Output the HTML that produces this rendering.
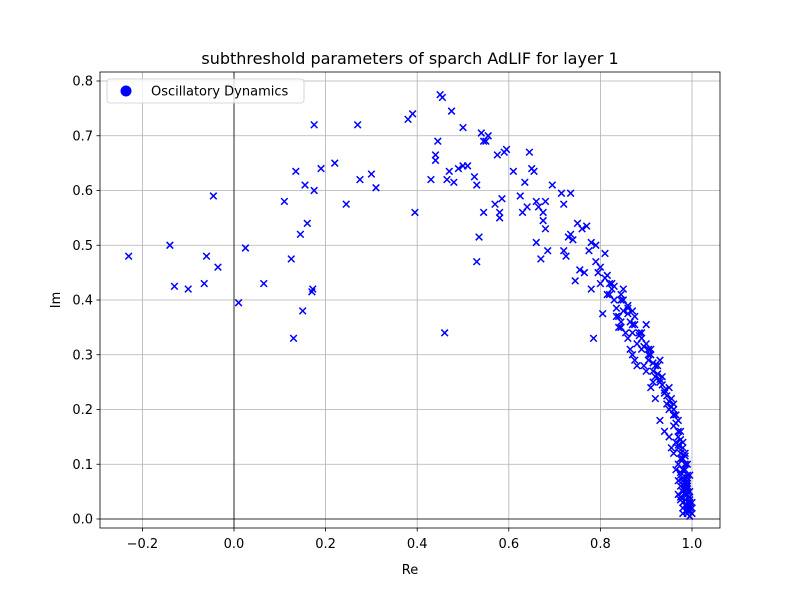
<!DOCTYPE html>
<html><head><meta charset="utf-8"><style>
body{margin:0;background:#fff;font-family:"Liberation Sans","DejaVu Sans",sans-serif}
svg text{font-family:"DejaVu Sans","Liberation Sans",sans-serif}
</style></head><body>
<svg id="chart" width="800" height="600" xmlns="http://www.w3.org/2000/svg"></svg>
<script>
const xTicks=[-0.2,0,0.2,0.4,0.6,0.8,1.0];
const xTickLabels=["−0.2","0.0","0.2","0.4","0.6","0.8","1.0"];
const yTicks=[0,0.1,0.2,0.3,0.4,0.5,0.6,0.7,0.8];
const yTickLabels=["0.0","0.1","0.2","0.3","0.4","0.5","0.6","0.7","0.8"];
const reVals=[-0.23,-0.14,-0.13,-0.10,-0.065,-0.06,-0.045,-0.035,0.01,0.025,0.065,0.11,0.125,0.13,0.135,0.145,0.15,0.155,0.16,0.17,0.172,0.175,0.175,0.19,0.22,0.245,0.27,0.275,0.3,0.31,0.38,0.39,0.395,0.43,0.44,0.44,0.445,0.45,0.455,0.46,0.465,0.47,0.475,0.48,0.49,0.5,0.5,0.51,0.525,0.53,0.53,0.535,0.54,0.545,0.545,0.55,0.555,0.57,0.575,0.58,0.58,0.585,0.59,0.595,0.61,0.625,0.63,0.635,0.64,0.645,0.65,0.655,0.66,0.66,0.665,0.67,0.675,0.675,0.68,0.68,0.685,0.695,0.715,0.72,0.72,0.725,0.73,0.735,0.735,0.74,0.745,0.75,0.755,0.76,0.765,0.77,0.775,0.78,0.78,0.785,0.79,0.79,0.795,0.8,0.805,0.81,
0.80,0.81,0.82,0.815,0.825,0.83,0.835,0.84,0.845,0.85,0.84,0.855,0.86,0.865,0.87,0.875,0.85,0.86,0.88,0.885,0.87,0.89,0.895,0.9,0.905,0.88,0.91,0.9,0.915,0.92,0.925,0.91,0.93,0.935,0.92,0.94,0.945,0.93,0.95,0.955,0.94,0.96,0.95,0.965,0.96,0.97,0.955,0.965,0.975,0.97,0.96,0.975,0.98,0.97,0.965,0.98,0.975,0.985,0.97,0.98,0.975,0.985,0.98,0.99,0.975,0.985,0.98,0.99,0.985,0.975,0.99,0.98,0.985,0.99,0.995,0.98,0.99,0.985,0.995,0.99,0.985,0.995,0.99,0.995,1.0,0.99,0.995,0.985,1.0,0.995,0.99,0.995,1.0,0.995,0.835,0.845,0.865,0.875,0.9,0.915,0.94,0.96,0.82,0.85,0.87,0.89,0.91,0.93,0.95,0.96,0.97,0.98,
0.825,0.845,0.86,0.87,0.885,0.895,0.905,0.915,0.925,0.935,0.945,0.955,0.96,0.965,0.97,0.975,0.98,0.985,0.99,0.975,0.98,0.985,0.99,0.97,0.975,0.98,0.985,0.99,0.995,0.98,0.985,0.99,0.995,0.97,0.96,0.95,0.94,0.93,0.92,0.905,0.89,0.875,0.86,0.845,0.83,0.815];
const imVals=[0.48,0.50,0.425,0.42,0.43,0.48,0.59,0.46,0.395,0.495,0.43,0.58,0.475,0.33,0.635,0.52,0.38,0.61,0.54,0.415,0.42,0.72,0.60,0.64,0.65,0.575,0.72,0.62,0.63,0.605,0.73,0.74,0.56,0.62,0.665,0.655,0.69,0.775,0.77,0.34,0.62,0.635,0.745,0.615,0.64,0.715,0.645,0.645,0.625,0.61,0.47,0.515,0.705,0.69,0.56,0.69,0.70,0.575,0.665,0.55,0.56,0.585,0.67,0.675,0.635,0.59,0.56,0.615,0.57,0.67,0.64,0.635,0.58,0.505,0.57,0.475,0.56,0.545,0.58,0.53,0.49,0.61,0.595,0.49,0.575,0.48,0.515,0.595,0.52,0.51,0.435,0.54,0.455,0.53,0.45,0.535,0.49,0.505,0.42,0.33,0.50,0.47,0.45,0.43,0.375,0.485,
0.46,0.44,0.43,0.41,0.42,0.40,0.385,0.37,0.36,0.38,0.35,0.34,0.39,0.36,0.34,0.37,0.42,0.33,0.32,0.34,0.30,0.31,0.28,0.32,0.29,0.28,0.30,0.355,0.27,0.26,0.28,0.24,0.25,0.26,0.22,0.23,0.21,0.18,0.20,0.22,0.16,0.21,0.15,0.19,0.17,0.18,0.13,0.14,0.16,0.15,0.12,0.12,0.14,0.10,0.09,0.11,0.08,0.12,0.07,0.09,0.06,0.10,0.05,0.08,0.04,0.06,0.03,0.065,0.045,0.11,0.05,0.02,0.035,0.025,0.03,0.07,0.015,0.055,0.02,0.01,0.09,0.04,0.06,0.015,0.02,0.075,0.025,0.1,0.01,0.035,0.045,0.005,0.03,0.05,0.37,0.35,0.31,0.29,0.27,0.25,0.23,0.19,0.41,0.40,0.38,0.34,0.31,0.29,0.24,0.19,0.13,0.11,
0.43,0.40,0.375,0.355,0.335,0.315,0.30,0.285,0.265,0.245,0.225,0.205,0.19,0.175,0.16,0.145,0.13,0.115,0.10,0.085,0.075,0.065,0.055,0.045,0.035,0.03,0.025,0.02,0.015,0.01,0.06,0.07,0.08,0.135,0.2,0.215,0.235,0.255,0.28,0.31,0.33,0.355,0.385,0.41,0.425,0.445];
const NS="http://www.w3.org/2000/svg";
const svg=document.getElementById('chart');
const L=100,R=720,T=72,B=528;
function xs(v){return 234+v*458;}
function ys(v){return 519-v*547.5;}
function mk(tag,attrs,parent){const e=document.createElementNS(NS,tag);for(const k in attrs)e.setAttribute(k,attrs[k]);(parent||svg).appendChild(e);return e;}
let e;
xTicks.forEach((t,i)=>{
 e=mk('line',{x1:xs(t),x2:xs(t),y1:T,y2:B,stroke:'#b0b0b0','stroke-width':0.8});
 
 
 mk('line',{x1:xs(t),x2:xs(t),y1:B,y2:B+3.5,stroke:'#000','stroke-width':0.8});
 e=mk('text',{x:xs(t),y:B+20,'text-anchor':'middle','font-size':13});e.textContent=xTickLabels[i];
 
 
});
yTicks.forEach((t,i)=>{
 e=mk('line',{x1:L,x2:R,y1:ys(t),y2:ys(t),stroke:'#b0b0b0','stroke-width':0.8});
 
 
 mk('line',{x1:L-3.5,x2:L,y1:ys(t),y2:ys(t),stroke:'#000','stroke-width':0.8});
 e=mk('text',{x:L-7,y:ys(t)+4.5,'text-anchor':'end','font-size':13});e.textContent=yTickLabels[i];
 
 
});
e=mk('line',{x1:xs(0),x2:xs(0),y1:T,y2:B,stroke:'#000','stroke-width':0.8});


e=mk('line',{x1:L,x2:R,y1:ys(0),y2:ys(0),stroke:'#000','stroke-width':0.8});


const g=mk('g',{stroke:'#0000ff','stroke-width':1.5});


reVals.forEach((r,i)=>{
 const cx=xs(r),cy=ys(imVals[i]),s=3.3;
 e=mk('path',{d:`M${cx-s},${cy-s}L${cx+s},${cy+s}M${cx-s},${cy+s}L${cx+s},${cy-s}`},g);
 
 
});
e=mk('rect',{x:L,y:T,width:R-L,height:B-T,fill:'none',stroke:'#000','stroke-width':0.8});


e=mk('text',{x:410,y:64,'text-anchor':'middle','font-size':16});e.textContent='subthreshold parameters of sparch AdLIF for layer 1';


e=mk('text',{x:410,y:574,'text-anchor':'middle','font-size':13});e.textContent='Re';


e=mk('text',{x:60,y:300,'text-anchor':'middle','font-size':13,transform:'rotate(-90 60 300)'});e.textContent='Im';


const lg=mk('g',{});


mk('rect',{x:107,y:79,width:197,height:24,rx:3,fill:'#fff','fill-opacity':0.8,stroke:'#ccc','stroke-width':0.8},lg);
mk('circle',{cx:126,cy:91,r:5.5,fill:'#0000ff'},lg);
e=mk('text',{x:151,y:95.5,'font-size':13},lg);e.textContent='Oscillatory Dynamics';


</script>
</body></html>
